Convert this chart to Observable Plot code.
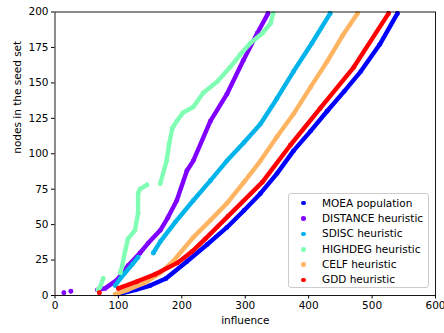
<!DOCTYPE html>
<html>
<head>
<meta charset="utf-8">
<script src="https://cdn.jsdelivr.net/npm/d3@7"></script>
<script src="https://cdn.jsdelivr.net/npm/@observablehq/plot@0.6"></script>
<style>
  html, body { margin: 0; padding: 0; background: #fff; }
  #wrap { position: relative; width: 444px; height: 333px; font-family: "DejaVu Sans", sans-serif; }
  #legend {
    position: absolute; left: 288px; top: 193px; width: 141px; height: 95px;
    box-sizing: border-box; border: 1px solid #cccccc; border-radius: 3px;
    background: rgba(255,255,255,0.8); padding-top: 1.5px;
  }
  .row { position: relative; height: 15.4px; font-size: 10.5px; line-height: 15.4px; color: #000; white-space: nowrap; }
  .sw { position: absolute; left: 12px; top: 5.3px; width: 4.6px; height: 4.6px; border-radius: 50%; }
  .lb { position: absolute; left: 33px; top: 0; }
</style>
</head>
<body>
<div id="wrap"></div>
<script>
// ---- data ----
const seriesNames = ["MOEA population", "DISTANCE heuristic", "SDISC heuristic", "HIGHDEG heuristic", "CELF heuristic", "GDD heuristic"];
const seriesColors = ["#0000ff", "#8000ff", "#00b4eb", "#80ffb4", "#ffb462", "#ff0000"];

const xTicks = [0, 100, 200, 300, 400, 500, 600];
const yTicks = [0, 25, 50, 75, 100, 125, 150, 175, 200];

// influence (x) and nodes in the seed set (y); null = gap in the chain of points
const moeaInfluence = [100, 127, 150, 175, 208, 240, 271, 298, 324, 350, 376, 403, 429, 456, 482, 512, 540];
const moeaNodes     = [1, 4, 7, 12, 24, 36, 48, 60, 72, 86, 102, 116, 130, 144, 158, 177, 199];

const distanceInfluence = [14, null, 25, null, 67, 79, 98, 115, 134, 147, 166, 178, 192, 208, 218, 245, 271, 297, 319, 336];
const distanceNodes     = [2, null, 3, null, 4, 5, 11, 21, 30, 37, 46, 55, 67, 88, 95, 123, 142, 166, 185, 199];

const sdiscInfluence = [95, 103, 122, 131, null, 155, 166, 190, 218, 245, 271, 298, 324, 350, 376, 405, 434];
const sdiscNodes     = [7, 12, 22, 27, null, 30, 38, 52, 67, 81, 95, 108, 121, 139, 158, 178, 199];

const highdegInfluence = [68, 71, 76, null, 103, 106, 110, 115, 126, 131, 131, 134, 145, null, 166, 176, 180, 185, 192, 202, 218, 234, 256, 276, 292, 308, 327, 340, 344];
const highdegNodes     = [4, 6, 12, null, 16, 21, 30, 40, 46, 58, 72, 75, 78, null, 79, 95, 107, 118, 123, 129, 133, 143, 151, 161, 170, 178, 185, 192, 199];

const celfInfluence = [95, 115, 142, 166, 186, 218, 245, 271, 298, 324, 350, 376, 403, 429, 453, 477];
const celfNodes     = [1, 4, 9, 16, 24, 41, 53, 65, 80, 95, 112, 128, 147, 165, 183, 199];

const gddInfluence = [70, null, 100, 130, 158, 193, 216, 237, 273, 327, 371, 418, 471, 526];
const gddNodes     = [2, null, 5, 10, 15, 23, 31, 40, 56, 80, 106, 132, 161, 199];

const seriesX = [moeaInfluence, distanceInfluence, sdiscInfluence, highdegInfluence, celfInfluence, gddInfluence];
const seriesY = [moeaNodes, distanceNodes, sdiscNodes, highdegNodes, celfNodes, gddNodes];

// build tables
const tables = seriesNames.map((name, i) =>
  seriesX[i].map((x, j) => ({ series: name, influence: x, nodes: seriesY[i][j] }))
);

const marks = [];
marks.push(Plot.axisX({ ticks: xTicks, tickSize: 3.5, tickPadding: 3, label: null, fontSize: 10.5 }));
marks.push(Plot.axisY({ ticks: yTicks, tickSize: 3.5, tickPadding: 3, label: null, fontSize: 10.5 }));
tables.forEach((t, i) => {
  marks.push(Plot.line(t, { x: "influence", y: "nodes", stroke: seriesColors[i], strokeWidth: 4.4, strokeLinecap: "round", strokeLinejoin: "round" }));
  marks.push(Plot.dot(t, { x: "influence", y: "nodes", r: 2.4, fill: seriesColors[i], stroke: "none" }));
});
marks.push(Plot.frame({ stroke: "#000", strokeWidth: 0.9 }));
marks.push(Plot.text(["influence"], { text: d => d, frameAnchor: "bottom", dy: 28, fontSize: 10.5, fill: "#000" }));
marks.push(Plot.text(["nodes in the seed set"], { text: d => d, frameAnchor: "left", rotate: -90, dx: -37.5, fontSize: 10.5, fill: "#000" }));

const chart = Plot.plot({
  width: 444,
  height: 333,
  marginLeft: 54.5,
  marginRight: 9,
  marginTop: 11.5,
  marginBottom: 38,
  x: { domain: [0, 600] },
  y: { domain: [0, 200] },
  style: { fontFamily: "DejaVu Sans, sans-serif", fontSize: "10.5px", color: "#000", background: "#fff", overflow: "visible" },
  marks
});

const wrap = document.getElementById("wrap");
wrap.appendChild(chart);

// legend
const legend = document.createElement("div");
legend.id = "legend";
seriesNames.forEach((name, i) => {
  const row = document.createElement("div");
  row.className = "row";
  const sw = document.createElement("span");
  sw.className = "sw";
  sw.style.background = seriesColors[i];
  const lb = document.createElement("span");
  lb.className = "lb";
  lb.textContent = name;
  row.appendChild(sw);
  row.appendChild(lb);
  legend.appendChild(row);
});
wrap.appendChild(legend);
</script>
</body>
</html>
